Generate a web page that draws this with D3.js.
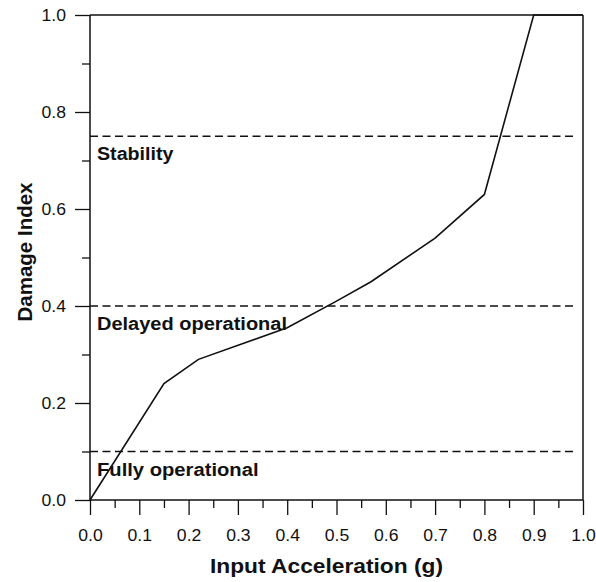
<!DOCTYPE html>
<html><head><meta charset="utf-8">
<script src="https://cdn.jsdelivr.net/npm/d3@7"></script>
<style>body{margin:0;background:#fff}svg{display:block}text{font-family:"Liberation Sans",Arial,sans-serif;fill:#111}</style>
</head><body>
<svg id="c" width="596" height="582"></svg>
<script>
const accel = [0, 0.15, 0.22, 0.4, 0.5, 0.57, 0.7, 0.8, 0.9, 1.0];
const damage = [0, 0.24, 0.29, 0.355, 0.41, 0.45, 0.54, 0.63, 1.0, 1.0];
const thresholds = [0.75, 0.4, 0.1];
const thresholdLabels = ["Stability", "Delayed operational", "Fully operational"];
const xMajor = [0,0.1,0.2,0.3,0.4,0.5,0.6,0.7,0.8,0.9,1.0];
const xMinor = [0.05,0.15,0.25,0.35,0.45,0.55,0.65,0.75,0.85,0.95];
const yMajor = [0,0.2,0.4,0.6,0.8,1.0];
const yMinor = [0.1,0.3,0.5,0.7,0.9];
const xTitle = "Input Acceleration (g)";
const yTitle = "Damage Index";

const svg = d3.select("#c");
const x = d3.scaleLinear().domain([0,1]).range([90,583]);
const y = d3.scaleLinear().domain([0,1]).range([500,15]);
function widen(sel, f){ sel.each(function(){ const w=this.getComputedTextLength(); d3.select(this).attr("textLength", w*f).attr("lengthAdjust","spacingAndGlyphs"); }); }
function fit(sel, w){ sel.attr("textLength", w).attr("lengthAdjust","spacingAndGlyphs"); }

// axes
const xa = svg.append("g").attr("transform","translate(0,500)")
  .call(d3.axisBottom(x).tickValues(xMajor).tickFormat(d3.format(".1f")).tickSize(15).tickPadding(10));
const xm = svg.append("g").attr("transform","translate(0,500)")
  .call(d3.axisBottom(x).tickValues(xMinor).tickFormat("").tickSize(8));
const ya = svg.append("g").attr("transform","translate(90,0)")
  .call(d3.axisLeft(y).tickValues(yMajor).tickFormat(d3.format(".1f")).tickSize(15).tickPadding(9));
const ym = svg.append("g").attr("transform","translate(90,0)")
  .call(d3.axisLeft(y).tickValues(yMinor).tickFormat("").tickSize(8));
[xa,xm,ya,ym].forEach(g=>{ g.select(".domain").attr("stroke","#111").attr("stroke-width",1.5);
  g.selectAll(".tick line").attr("stroke","#111").attr("stroke-width",1.3); });
[xm,ym].forEach(g=>g.select(".domain").remove());
xa.select(".domain").attr("d","M90,0H583");
ya.select(".domain").attr("d","M0,15V500");
xa.selectAll(".tick text").attr("font-size",16).attr("font-family","Liberation Sans, Arial").attr("fill","#111").attr("dy","1.0em").call(widen,1.1);
ya.selectAll(".tick text").attr("font-size",16).attr("font-family","Liberation Sans, Arial").attr("fill","#111").call(widen,1.1);

// frame top and right
svg.append("line").attr("x1",x(0)).attr("x2",x(1)).attr("y1",y(1)).attr("y2",y(1)).attr("stroke","#111").attr("stroke-width",1.5);
svg.append("line").attr("x1",x(1)).attr("x2",x(1)).attr("y1",y(1)).attr("y2",y(0)).attr("stroke","#111").attr("stroke-width",1.5);

// thresholds
svg.selectAll("line.th").data(thresholds).join("line").attr("class","th")
  .attr("x1",x(0)).attr("x2",x(0.988)).attr("y1",d=>y(d)).attr("y2",d=>y(d))
  .attr("stroke","#111").attr("stroke-width",1.5).attr("stroke-dasharray","8,4.5");
const labelW = [76.5, 190, 161.5];
svg.selectAll("text.tl").data(thresholds).join("text").attr("class","tl")
  .attr("x",x(0)+7).attr("y",d=>y(d)+24).attr("font-size",17.5).attr("font-weight","bold")
  .text((d,i)=>thresholdLabels[i]).attr("textLength",(d,i)=>labelW[i]).attr("lengthAdjust","spacingAndGlyphs");

// curve
const pts = accel.map((a,i)=>[a,damage[i]]);
svg.append("path").datum(pts).attr("fill","none").attr("stroke","#111").attr("stroke-width",1.6)
  .attr("d", d3.line().x(d=>x(d[0])).y(d=>y(d[1])));

// titles
svg.append("text").attr("x",326.5).attr("y",573).attr("text-anchor","middle").attr("font-size",19.5).attr("font-weight","bold").text(xTitle).call(fit,233);
svg.append("text").attr("transform","translate(32,252) rotate(-90)").attr("text-anchor","middle").attr("font-size",19.5).attr("font-weight","bold").text(yTitle).call(fit,139);
</script>
</body></html>
